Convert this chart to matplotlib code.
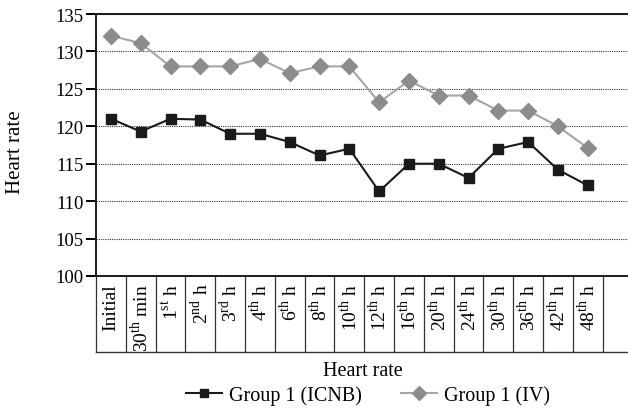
"""
Heart rate over time, Group 1 (ICNB) vs Group 1 (IV)
"""

#---------------------------------------------------------------------------------------------------
# Import Modules
#---------------------------------------------------------------------------------------------------

import matplotlib
matplotlib.use('Agg')
import matplotlib.pyplot as plt
import matplotlib.transforms as mtrans


#---------------------------------------------------------------------------------------------------
# Input Parameters
#---------------------------------------------------------------------------------------------------

time_labels = ['Initial', '30$^{\\mathrm{th}}$ min', '1$^{\\mathrm{st}}$ h', '2$^{\\mathrm{nd}}$ h',
               '3$^{\\mathrm{rd}}$ h', '4$^{\\mathrm{th}}$ h', '6$^{\\mathrm{th}}$ h', '8$^{\\mathrm{th}}$ h',
               '10$^{\\mathrm{th}}$ h', '12$^{\\mathrm{th}}$ h', '16$^{\\mathrm{th}}$ h', '20$^{\\mathrm{th}}$ h',
               '24$^{\\mathrm{th}}$ h', '30$^{\\mathrm{th}}$ h', '36$^{\\mathrm{th}}$ h', '42$^{\\mathrm{th}}$ h',
               '48$^{\\mathrm{th}}$ h']

hr_icnb = [121, 119.3, 121, 120.9, 119, 119, 117.9, 116.1, 117, 111.3, 115, 115, 113.1, 117, 117.9,
           114.2, 112.1]
hr_iv = [132.1, 131.1, 128, 128, 128, 129, 127.1, 128, 128, 123.2, 126.1, 124.1, 124.1, 122.1, 122.1,
         120, 117.1]

series_names = ['Group 1 (ICNB)', 'Group 1 (IV)']
yticks = [100, 105, 110, 115, 120, 125, 130, 135]

out_fname = 'out.png'


#---------------------------------------------------------------------------------------------------
# Main Program
#---------------------------------------------------------------------------------------------------

plt.rcParams['font.family'] = ['Liberation Serif', 'DejaVu Serif']
plt.rcParams['mathtext.fontset'] = 'custom'
plt.rcParams['mathtext.rm'] = 'Liberation Serif'

fig = plt.figure(figsize=(6.28, 4.14), dpi=100)
ax = fig.add_axes([96/628, 1 - 277/414, 532/628, 262/414])

x = list(range(len(time_labels)))
ax.plot(x, hr_icnb, color='#1a1a1a', lw=1.5, marker='s', ms=7.5, mfc='#1a1a1a', mec='#1a1a1a',
        label=series_names[0])
ax.plot(x, hr_iv, color='#a6a6a6', lw=1.5, marker='D', ms=8.5, mfc='#8c8c8c', mec='#8c8c8c',
        label=series_names[1])

# Axes limits and grid
ax.set_ylim(100, 135)
ax.set_yticks(yticks)
ax.set_xlim(-0.5, 17.35)
ax.yaxis.grid(True, ls=(0, (1, 1)), color='#333333', lw=0.8)
ax.set_axisbelow(True)
ax.spines['right'].set_visible(False)
for side in ['left', 'top', 'bottom']:
    ax.spines[side].set_linewidth(1.4)
    ax.spines[side].set_color('#1a1a1a')
ax.tick_params(axis='y', direction='out', length=7, width=1.4, labelsize=13.5, pad=2)

# Category cells below the axis
ax.set_xticks(x)
ax.set_xticklabels(time_labels, rotation=90, fontsize=14)
ax.tick_params(axis='x', length=0, pad=5)
trans = mtrans.blended_transform_factory(ax.transData, ax.transAxes)
cell_h = 76 / 262
for k in range(len(time_labels) + 1):
    ax.plot([k - 0.5, k - 0.5], [0, -cell_h], color='#333333', lw=0.9, transform=trans, clip_on=False)
ax.plot([-0.5, 17.35], [-cell_h, -cell_h], color='#333333', lw=1.0, transform=trans, clip_on=False)

# Labels and legend
fig.text(15/628, 1 - 152/414, 'Heart rate', rotation=90, ha='center', va='center', fontsize=15)
fig.text(363/628, 1 - 372/414, 'Heart rate', ha='center', va='center', fontsize=14.5)
fig.legend(loc='center', bbox_to_anchor=(368/628, 1 - 396/414), ncol=2, frameon=False, fontsize=14.5,
           handlelength=1.8, columnspacing=1.9, handletextpad=0.35, markerscale=0.8)

plt.savefig(out_fname)
plt.close()
